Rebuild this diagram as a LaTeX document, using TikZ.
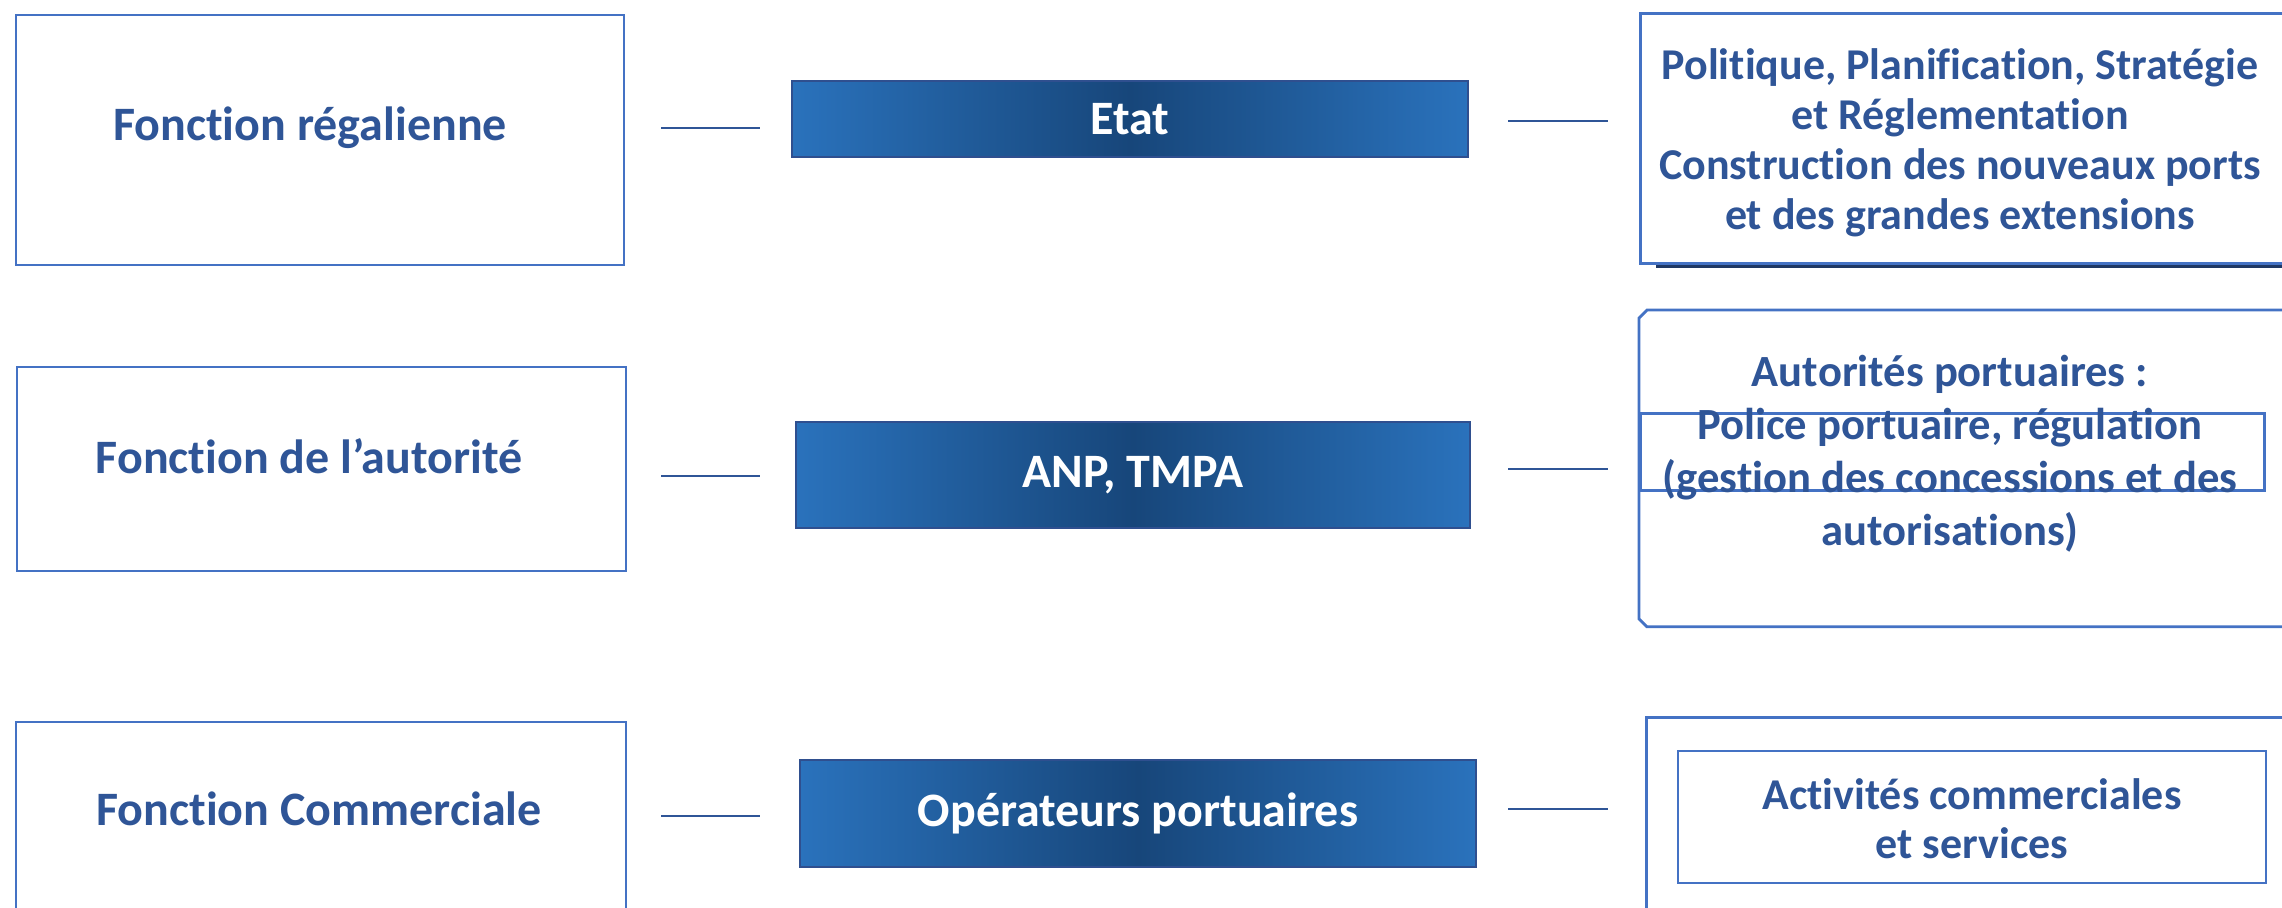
\documentclass[tikz,border=0pt]{standalone}
\usepackage{fontspec}
\setmainfont{Carlito}[Ligatures=NoCommon]
\definecolor{txtblue}{HTML}{2F5597}
\definecolor{boxblue}{HTML}{4472C4}
\definecolor{lineblue}{HTML}{2F5597}
\definecolor{lb}{HTML}{2A72BC}
\definecolor{db}{HTML}{17467A}
\definecolor{gbord}{HTML}{2F4F8F}
\definecolor{shadowc}{HTML}{1F3864}
\pgfdeclarehorizontalshading{midshade}{100bp}{color(0bp)=(lb); color(25bp)=(lb); color(50bp)=(db); color(75bp)=(lb); color(100bp)=(lb)}
\tikzset{
  frame/.style={draw=boxblue, line width=1.4pt, inner sep=0pt},
  lbl/.style={text=txtblue, font=\fontsize{24}{28}\selectfont\bfseries, align=center, inner sep=0pt},
  rlbl/.style={text=txtblue, align=center, inner sep=0pt},
  gbox/.style={draw=gbord, line width=0.8pt, shading=midshade, text=white, font=\fontsize{24}{28}\selectfont\bfseries, inner sep=0pt},
  conn/.style={draw=lineblue, line width=1.1pt}
}
\begin{document}
\begin{tikzpicture}[x=0.5pt,y=-0.5pt]
\useasboundingbox (0,0) rectangle (2282,907);
\clip (0,0) rectangle (2282,907);
\fill[white] (0,0) rectangle (2282,907);

% left column
\node[frame, minimum width=304pt, minimum height=125pt] (fr) at (320,140) {};
\node[lbl] (frt) at (310,128) {Fonction régalienne};
\node[frame, minimum width=304.5pt, minimum height=102pt] (fa) at (321.5,469) {};
\node[lbl] (fat) at (309,456) {Fonction de l’autorité};
\node[frame, minimum width=305pt, minimum height=109pt] (fc) at (321,831) {};
\node[lbl] (fct) at (319,809) {Fonction Commerciale};

% middle column
\node[gbox, minimum width=338pt, minimum height=38pt] (etat) at (1130,119) {Etat};
\node[gbox, minimum width=337pt, minimum height=53pt] (anp) at (1133,475) {ANP, TMPA};
\node[gbox, minimum width=338pt, minimum height=53.5pt] (op) at (1138,813.5) {Opérateurs portuaires};

% right column
\draw[shadowc, line width=2pt] (1656,266) -- (2300,266);
\node[frame, minimum width=330.5pt, minimum height=125pt, anchor=north west] (r1) at (1639,12) {};
\node[rlbl, font=\fontsize{22}{25}\selectfont\bfseries] (r1t) at (1960,143) {Politique, Planification, Stratégie\\et Réglementation\\Construction des nouveaux ports\\et des grandes extensions};

\node[inner sep=0pt, minimum width=330.5pt, minimum height=158pt, anchor=north west] (r2) at (1639,310) {};
\draw[boxblue, line width=1.4pt] (r2.north east) -- ([xshift=4pt]r2.north west) -- ([yshift=-4pt]r2.north west) -- ([yshift=4pt]r2.south west) -- ([xshift=4pt]r2.south west) -- (r2.south east);
\node[frame, minimum width=312pt, minimum height=38.5pt, anchor=north west] (r2i) at (1639,412) {};
\node[rlbl, font=\fontsize{22.3}{26.5}\selectfont\bfseries] (r2t) at (1950,454) {Autorités portuaires :\\Police portuaire, régulation\\(gestion des concessions et des\\autorisations)};

\node[frame, minimum width=327.5pt, minimum height=112pt, anchor=north west] (r3) at (1645,716) {};
\node[frame, minimum width=294pt, minimum height=66pt] (r3i) at (1972,817) {};
\node[rlbl, font=\fontsize{22}{24.5}\selectfont\bfseries] (r3t) at (1972,819) {Activités commerciales\\et services};

% connectors
\coordinate (a1) at (661,128); \coordinate (b1) at (760,128);
\coordinate (c1) at (1508,121); \coordinate (d1) at (1608,121);
\coordinate (a2) at (661,476); \coordinate (b2) at (760,476);
\coordinate (c2) at (1508,469); \coordinate (d2) at (1608,469);
\coordinate (a3) at (661,816); \coordinate (b3) at (760,816);
\coordinate (c3) at (1508,809); \coordinate (d3) at (1608,809);
\draw[conn] (a1) -- (b1);
\draw[conn] (c1) -- (d1);
\draw[conn] (a2) -- (b2);
\draw[conn] (c2) -- (d2);
\draw[conn] (a3) -- (b3);
\draw[conn] (c3) -- (d3);
\end{tikzpicture}
\end{document}
